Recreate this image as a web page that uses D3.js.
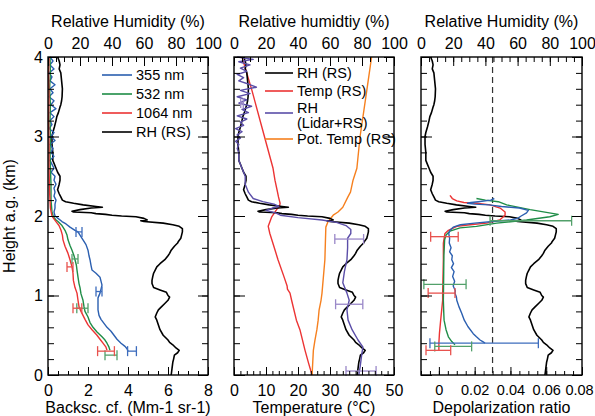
<!DOCTYPE html>
<html>
<head>
<meta charset="utf-8">
<script src="https://cdn.jsdelivr.net/npm/d3@7"></script>
<style>
body{margin:0;background:#fff;}
svg{font-family:"Liberation Sans",Arial,Helvetica,sans-serif;}
</style>
</head>
<body>
<svg id="chart" width="595" height="416"></svg>
<script>

//data, every pair is [height km, value]//

var rhRS = [[4.0,6],[3.95,7],[3.9,7.5],[3.85,7],[3.8,8],[3.7,8.5],[3.6,9],[3.5,8.8],[3.45,8.5],[3.4,8],[3.37,7.5],[3.3,6.5],[3.25,5.5],[3.2,5],[3.12,4],[3.05,3],[3.0,2.5],[2.9,2.5],[2.8,3],[2.7,3],[2.65,4],[2.6,5],[2.55,6],[2.5,7.5],[2.45,7.5],[2.4,7],[2.33,6],[2.28,7],[2.24,8],[2.2,9],[2.18,11],[2.16,16],[2.14,22],[2.12,30],[2.11,34],[2.1,27],[2.08,20],[2.06,15],[2.05,16],[2.04,27],[2.03,30],[2.02,36],[2.01,40],[2.0,46],[1.99,55],[1.97,60],[1.95,62],[1.94,58],[1.93,60],[1.91,72],[1.89,78],[1.87,82],[1.84,84],[1.8,84],[1.76,83.5],[1.72,83],[1.68,81.5],[1.66,81],[1.62,79],[1.57,77],[1.53,76],[1.5,75],[1.45,73],[1.4,70],[1.36,68],[1.32,67],[1.28,66],[1.24,65.5],[1.19,65],[1.15,65],[1.1,66],[1.07,70],[1.04,74],[1.0,75],[0.98,76],[0.94,75],[0.9,73],[0.86,71],[0.82,69],[0.78,68],[0.73,67],[0.69,68],[0.63,69],[0.57,70],[0.5,72],[0.44,75],[0.41,76],[0.38,78],[0.34,80],[0.31,82],[0.28,81],[0.25,79],[0.2,78.5],[0.16,78],[0.08,77.5],[0.0,77]];

var bsc355 = [[4.0,0.1],[3.95,0.25],[3.9,0.1],[3.85,0.3],[3.8,0.05],[3.75,0.2],[3.7,0.1],[3.65,0.35],[3.6,0.1],[3.55,0.25],[3.5,0.05],[3.45,0.3],[3.4,0.15],[3.35,0.4],[3.3,0.1],[3.25,0.3],[3.2,0.1],[3.15,0.2],[3.1,0.05],[3.05,0.3],[3.0,0.15],[2.95,0.35],[2.9,0.1],[2.85,0.25],[2.8,0.15],[2.75,0.3],[2.7,0.1],[2.65,0.2],[2.6,0.3],[2.55,0.15],[2.5,0.35],[2.45,0.3],[2.4,0.4],[2.35,0.3],[2.3,0.35],[2.25,0.3],[2.2,0.4],[2.15,0.35],[2.1,0.35],[2.05,0.3],[2.0,0.35],[1.97,0.5],[1.93,0.7],[1.9,0.9],[1.86,1.1],[1.82,1.35],[1.8,1.5],[1.76,1.6],[1.7,1.75],[1.64,1.9],[1.57,2.0],[1.5,2.05],[1.45,2.1],[1.38,2.15],[1.32,2.2],[1.28,2.4],[1.23,2.6],[1.18,2.65],[1.13,2.7],[1.08,2.65],[1.03,2.6],[0.97,2.5],[0.9,2.5],[0.82,2.5],[0.75,2.55],[0.7,2.65],[0.65,2.8],[0.6,2.95],[0.55,3.15],[0.5,3.3],[0.45,3.45],[0.4,3.65],[0.36,3.85],[0.33,3.95],[0.3,4.0]];
var bsc532 = [[4.0,0.1],[3.8,0.12],[3.6,0.08],[3.4,0.12],[3.2,0.1],[3.0,0.12],[2.8,0.1],[2.6,0.12],[2.4,0.15],[2.2,0.15],[2.05,0.2],[1.99,0.27],[1.95,0.4],[1.93,0.5],[1.88,0.7],[1.82,0.85],[1.76,0.95],[1.7,1.0],[1.63,1.1],[1.57,1.2],[1.5,1.3],[1.45,1.35],[1.38,1.42],[1.32,1.45],[1.23,1.5],[1.15,1.55],[1.1,1.6],[1.02,1.65],[0.94,1.75],[0.86,1.8],[0.8,1.85],[0.73,2.0],[0.66,2.1],[0.6,2.25],[0.54,2.45],[0.48,2.7],[0.44,2.85],[0.4,2.95],[0.35,3.05],[0.31,3.1]];
var bsc1064 = [[4.0,0.05],[3.8,0.03],[3.5,0.05],[3.2,0.03],[2.9,0.05],[2.6,0.05],[2.3,0.08],[2.1,0.12],[2.0,0.2],[1.98,0.25],[1.93,0.4],[1.88,0.55],[1.82,0.65],[1.76,0.72],[1.7,0.75],[1.62,0.85],[1.53,1.0],[1.45,1.1],[1.36,1.2],[1.28,1.25],[1.19,1.27],[1.1,1.35],[1.03,1.45],[0.94,1.5],[0.86,1.55],[0.8,1.65],[0.75,1.75],[0.7,1.85],[0.63,2.0],[0.57,2.2],[0.5,2.45],[0.45,2.6],[0.4,2.75],[0.35,2.9],[0.31,2.95]];

//error bars are [height, centre, half width]//
var err355 = [[1.8,1.55,0.15],[1.05,2.55,0.15],[0.3,4.2,0.22]];
var err532 = [[1.46,1.35,0.15],[0.84,1.72,0.28],[0.25,3.15,0.3]];
var err1064 = [[1.36,1.1,0.15],[0.84,1.47,0.22],[0.3,2.9,0.42]];

var tempRS = [[4.0,2.5],[3.58,5.6],[3.12,8.7],[2.6,12.2],[2.45,12.8],[2.3,13.6],[2.24,13.9],[2.16,14.4],[2.12,14.2],[2.08,13.3],[1.99,11.8],[1.87,10.7],[1.78,11.2],[1.6,12.6],[1.45,13.75],[1.25,15.5],[1.12,16.6],[1.08,16.7],[1.03,17.5],[0.94,18],[0.69,19.5],[0.57,20.6],[0.31,22.2],[0.15,23.3],[0.0,24.4]];
var potTempRS = [[4.0,43],[3.58,41.5],[3.0,39.4],[2.6,38.4],[2.45,37.2],[2.3,36.4],[2.24,35.6],[2.11,34],[2.05,32.5],[2.01,31],[1.93,29.4],[1.86,28.7],[1.45,28.4],[1.03,27.5],[0.94,27.2],[0.82,26.6],[0.69,26.3],[0.57,25.9],[0.44,25.3],[0.31,24.8],[0.0,24.4]];
var rhLidar = [[4.0,2],[3.97,12],[3.94,3],[3.9,10],[3.86,4],[3.82,8],[3.78,2],[3.74,6],[3.7,3],[3.66,9],[3.62,14],[3.58,4],[3.54,10],[3.5,2],[3.46,8],[3.42,3],[3.38,11],[3.34,5],[3.3,9],[3.26,2],[3.22,8],[3.18,4],[3.14,6],[3.1,1],[3.06,5],[3.02,2],[2.98,4],[2.94,1],[2.9,3],[2.85,2],[2.8,3],[2.7,3],[2.6,5],[2.5,7],[2.4,7],[2.3,9],[2.22,12],[2.18,18],[2.15,25],[2.12,28],[2.1,24],[2.07,20],[2.04,26],[2.01,29],[1.98,40],[1.95,55],[1.92,64],[1.88,70],[1.83,73],[1.78,73],[1.72,71],[1.6,71],[1.45,70.6],[1.3,69],[1.16,68],[1.03,70.6],[0.94,72],[0.82,70.6],[0.69,71.3],[0.57,73.8],[0.44,77.5],[0.35,80.6],[0.28,80],[0.1,78.8],[0.0,78]];
var errLidar = [[3.42,5,0.8],[1.71,72,9],[0.89,72,8.5],[0.05,79.4,9.4]];

var dep355 = [[2.22,0.031],[2.2,0.029],[2.18,0.022],[2.17,0.018],[2.16,0.016],[2.15,0.02],[2.14,0.028],[2.12,0.035],[2.1,0.045],[2.07,0.05],[2.04,0.049],[2.0,0.046],[1.97,0.044],[1.95,0.04],[1.93,0.03],[1.91,0.02],[1.89,0.012],[1.86,0.008],[1.82,0.0062],[1.78,0.0055],[1.72,0.006],[1.66,0.0058],[1.6,0.0068],[1.55,0.006],[1.5,0.0075],[1.45,0.0072],[1.4,0.0082],[1.35,0.007],[1.3,0.0085],[1.24,0.0077],[1.18,0.0088],[1.12,0.008],[1.06,0.0092],[1.03,0.009],[0.98,0.0098],[0.94,0.01],[0.86,0.0112],[0.78,0.0127],[0.69,0.0142],[0.61,0.0162],[0.52,0.0192],[0.48,0.021],[0.44,0.023],[0.42,0.0245],[0.4,0.0258]];
var dep532 = [[2.22,0.021],[2.2,0.026],[2.18,0.0332],[2.14,0.0379],[2.08,0.051],[2.02,0.0667],[1.99,0.062],[1.95,0.049],[1.91,0.0323],[1.87,0.021],[1.85,0.0118],[1.81,0.0062],[1.76,0.004],[1.7,0.0032],[1.5,0.0028],[1.3,0.0027],[1.1,0.0026],[0.94,0.0025],[0.8,0.0027],[0.69,0.0029],[0.57,0.004],[0.48,0.0053],[0.42,0.0072],[0.38,0.009]];
var dep1064 = [[2.26,0.0062],[2.22,0.0075],[2.19,0.01],[2.17,0.014],[2.16,0.021],[2.14,0.0286],[2.1,0.0342],[2.05,0.037],[2.01,0.037],[1.95,0.034],[1.91,0.0267],[1.89,0.0174],[1.87,0.01],[1.82,0.0053],[1.78,0.0034],[1.66,0.0025],[1.45,0.0025],[1.03,0.0021],[0.94,0.0021],[0.69,0.001],[0.52,0.0003],[0.4,0.0],[0.31,0.0]];
var errDep355 = [[0.4,0.0253,0.0303]];
var errDep532 = [[1.94,0.0514,0.0228],[1.14,0.0034,0.0118],[0.36,0.008,0.0103]];
var errDep1064 = [[1.74,0.0031,0.0077],[1.03,0.0015,0.0075],[0.31,-0.0003,0.0069]];

var depLimit = 0.03;

//colours//
var cBlue = "#2b5fb0", cGreen = "#1f8d47", cRed = "#ec3434", cBlack = "#000",
    cPurple = "#5b4ea8", cOrange = "#f6801f";
var eBlue = "#3d6cbd", eGreen = "#52a06a", eRed = "#e8524e", ePurple = "#9a88c8";

//layout, careful: "top" is taken by window//
var yTop = 57, yBottom = 375;
var svg = d3.select("#chart");

var yScale = d3.scaleLinear().domain([0,4]).range([yBottom,yTop]);

var p1 = {x0:48, x1:208}, p2 = {x0:234, x1:394}, p3 = {x0:421, x1:582};

var x1 = d3.scaleLinear().domain([0,8]).range([p1.x0,p1.x1]);
var x2 = d3.scaleLinear().domain([0,50]).range([p2.x0,p2.x1]);
var x3 = d3.scaleLinear().domain([-0.01,0.08]).range([p3.x0,p3.x1]);
var rh1 = d3.scaleLinear().domain([0,100]).range([p1.x0,p1.x1]);
var rh2 = d3.scaleLinear().domain([0,100]).range([p2.x0,p2.x1]);
var rh3 = d3.scaleLinear().domain([0,100]).range([p3.x0,p3.x1]);

var drawAxes = function(p, xs, rs, xMajor, xMinor, xFmt, showY, fs)
{
  var g = svg.append("g").attr("class","axes");

  //minor then major ticks, all pointing in//
  g.append("g").attr("transform","translate(0,"+yBottom+")")
   .call(d3.axisBottom(xs).tickValues(xMinor).tickSize(-4).tickFormat(""));
  var bx = g.append("g").attr("transform","translate(0,"+yBottom+")")
   .call(d3.axisBottom(xs).tickValues(xMajor).tickSize(-8).tickPadding(10).tickFormat(xFmt));

  g.append("g").attr("transform","translate(0,"+yTop+")")
   .call(d3.axisTop(rs).tickValues(d3.range(0,101,5)).tickSize(-5).tickFormat(""));
  g.append("g").attr("transform","translate(0,"+yTop+")")
   .call(d3.axisTop(rs).tickValues([0,20,40,60,80,100]).tickSize(-9).tickPadding(8));

  g.append("g").attr("transform","translate("+p.x0+",0)")
   .call(d3.axisLeft(yScale).tickValues(d3.range(0,4.01,0.2)).tickSize(-6).tickFormat(""));
  g.append("g").attr("transform","translate("+p.x0+",0)")
   .call(d3.axisLeft(yScale).tickValues([0,1,2,3,4]).tickSize(-11).tickPadding(5)
   .tickFormat(showY ? d3.format("d") : ""));

  g.append("g").attr("transform","translate("+p.x1+",0)")
   .call(d3.axisRight(yScale).tickValues(d3.range(0,4.01,0.2)).tickSize(-6).tickFormat(""));
  g.append("g").attr("transform","translate("+p.x1+",0)")
   .call(d3.axisRight(yScale).tickValues([0,1,2,3,4]).tickSize(-10).tickFormat(""));

  g.selectAll(".domain").remove();
  g.selectAll("text").attr("font-size",16).attr("font-family","Liberation Sans, Arial, sans-serif").attr("fill","#000");
  bx.selectAll("text").attr("font-size",fs);
  g.selectAll("line").attr("stroke","#000").attr("stroke-width",1);

  svg.append("rect")
     .attr("x",p.x0).attr("y",yTop)
     .attr("width",p.x1-p.x0).attr("height",yBottom-yTop)
     .attr("fill","none").attr("stroke","#000").attr("stroke-width",1.4);
  return bx;
}

var drawLine = function(data, xs, color, w)
{
  svg.append("path")
     .datum(data)
     .attr("fill","none")
     .attr("stroke",color)
     .attr("stroke-width",w)
     .attr("stroke-linejoin","round")
     .attr("d", d3.line().x(function(d){ return xs(d[1]); }).y(function(d){ return yScale(d[0]); }));
}

var drawErr = function(data, xs, color)
{
  var g = svg.append("g").attr("stroke",color).attr("stroke-width",1.3);
  data.forEach(function(e)
  {
    var y = yScale(e[0]), a = xs(e[1]-e[2]), b = xs(e[1]+e[2]);
    g.append("line").attr("x1",a).attr("x2",b).attr("y1",y).attr("y2",y);
    g.append("line").attr("x1",a).attr("x2",a).attr("y1",y-5).attr("y2",y+5);
    g.append("line").attr("x1",b).attr("x2",b).attr("y1",y-5).attr("y2",y+5);
  });
}

//panel 1, backscatter//
drawLine(rhRS, rh1, cBlack, 1.6);
drawLine(bsc355, x1, cBlue, 1.4);
drawLine(bsc532, x1, cGreen, 1.4);
drawLine(bsc1064, x1, cRed, 1.4);
drawErr(err355, x1, eBlue);
drawErr(err532, x1, eGreen);
drawErr(err1064, x1, eRed);

//panel 2, temperature and RH//
drawLine(tempRS, x2, cRed, 1.4);
drawLine(potTempRS, x2, cOrange, 1.4);
drawLine(rhRS, rh2, cBlack, 1.6);
drawLine(rhLidar, rh2, cPurple, 1.4);
drawErr(errLidar, rh2, ePurple);

//panel 3, depolarization//
svg.append("line")
   .attr("x1",x3(depLimit)).attr("x2",x3(depLimit))
   .attr("y1",yScale(4)).attr("y2",yScale(0))
   .attr("stroke","#333").attr("stroke-width",1.2).attr("stroke-dasharray","6,4");
drawLine(rhRS, rh3, cBlack, 1.6);
drawLine(dep1064, x3, cRed, 1.4);
drawLine(dep532, x3, cGreen, 1.4);
drawLine(dep355, x3, cBlue, 1.4);
drawErr(errDep355, x3, eBlue);
drawErr(errDep532, x3, eGreen);
drawErr(errDep1064, x3, eRed);

drawAxes(p1, x1, rh1, [0,2,4,6,8], d3.range(0,8.01,0.5), d3.format("d"), true, 16);
drawAxes(p2, x2, rh2, [0,10,20,30,40,50], d3.range(0,50.1,2), d3.format("d"), false, 16);
var depAxis = drawAxes(p3, x3, rh3, [0,0.02,0.04,0.06,0.08], d3.range(-0.01,0.0801,0.005),
         function(d){ return d === 0 ? "0" : d3.format(".2f")(d); }, false, 14.5);

//last label sits on the page edge, nudge it in//
depAxis.selectAll("text").filter(function(d){ return d === 0.08; }).attr("dx",-3);

//titles//
var topTitles = ["Relative Humidity (%)","Relative humidtiy (%)","Relative Humidity (%)"];
var bottomTitles = ["Backsc. cf. (Mm-1 sr-1)","Temperature (\u00B0C)","Depolarization ratio"];
[p1,p2,p3].forEach(function(p,i)
{
  svg.append("text").attr("x",(p.x0+p.x1)/2).attr("y",27)
     .attr("text-anchor","middle").attr("font-size",16).text(topTitles[i]);
  svg.append("text").attr("x",(p.x0+p.x1)/2).attr("y",413)
     .attr("text-anchor","middle").attr("font-size",16).text(bottomTitles[i]);
});
svg.append("text")
   .attr("transform","translate(15,"+((yTop+yBottom)/2)+") rotate(-90)")
   .attr("text-anchor","middle").attr("font-size",16)
   .text("Height a.g. (km)");

//legends//
var leg1 = [["355 nm",cBlue],["532 nm",cGreen],["1064 nm",cRed],["RH (RS)",cBlack]];
var lg1 = svg.append("g").attr("transform","translate(102,75)");
leg1.forEach(function(l,i)
{
  lg1.append("line").attr("x1",0).attr("x2",30).attr("y1",i*19).attr("y2",i*19)
     .attr("stroke",l[1]).attr("stroke-width",1.6);
  lg1.append("text").attr("x",34).attr("y",i*19+5).attr("font-size",14.5).text(l[0]);
});

var leg2 = [["RH (RS)",cBlack,0],["Temp (RS)",cRed,18],["RH",cPurple,40],["Pot. Temp (RS)",cOrange,66]];
var lg2 = svg.append("g").attr("transform","translate(265,73)");
leg2.forEach(function(l)
{
  lg2.append("line").attr("x1",0).attr("x2",28).attr("y1",l[2]).attr("y2",l[2])
     .attr("stroke",l[1]).attr("stroke-width",1.6);
});
lg2.append("text").attr("x",32).attr("y",5).attr("font-size",14.5).text("RH (RS)");
lg2.append("text").attr("x",32).attr("y",23).attr("font-size",14.5).text("Temp (RS)");
lg2.append("text").attr("x",32).attr("y",40).attr("font-size",14.5).text("RH");
lg2.append("text").attr("x",32).attr("y",55).attr("font-size",14.5).text("(Lidar+RS)");
lg2.append("text").attr("x",32).attr("y",71).attr("font-size",14.5).text("Pot. Temp (RS)");

</script>
</body>
</html>
